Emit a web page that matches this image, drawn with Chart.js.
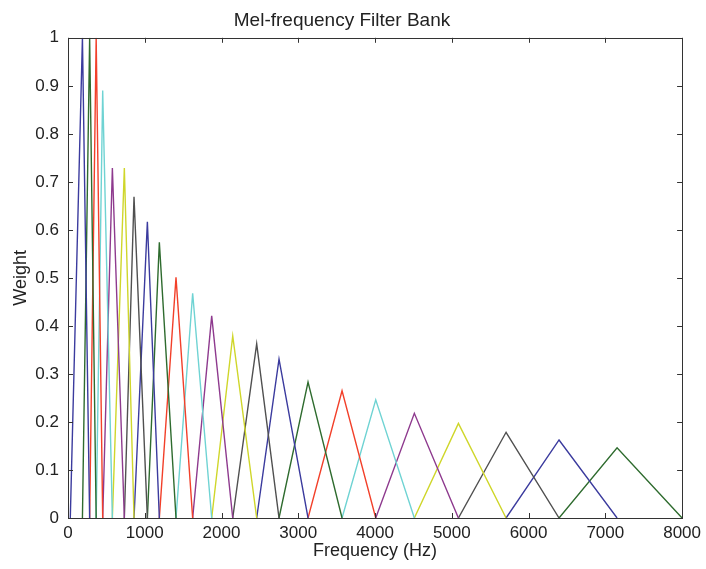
<!DOCTYPE html>
<html>
<head>
<meta charset="utf-8">
<script src="https://cdn.jsdelivr.net/npm/chart.js@4/dist/chart.umd.min.js"></script>
<style>
    body { margin: 0; background: #fff; }
    #chart-melbank { display: block; }
</style>
</head>
<body>
<canvas id="chart-melbank" width="706" height="569"></canvas>
<script>
// filter centre frequencies (Hz) and peak weights
var peakHz = [188, 282, 367, 452, 578, 734, 860, 1034, 1190, 1407, 1624, 1872, 2146, 2458, 2749, 3127, 3570, 4009, 4512, 5086, 5707, 6397, 7153];
var peakWeight = [1.0, 1.0, 1.0, 0.89, 0.729, 0.729, 0.669, 0.617, 0.574, 0.501, 0.468, 0.421, 0.379, 0.3625, 0.331, 0.283, 0.265, 0.246, 0.218, 0.197, 0.1785, 0.1625, 0.146];
var lowEdgeHz = 30;
var highEdgeHz = 8000;

var xTicks = [0, 1000, 2000, 3000, 4000, 5000, 6000, 7000, 8000];
var yTicks = [0, 0.1, 0.2, 0.3, 0.4, 0.5, 0.6, 0.7, 0.8, 0.9, 1];
var yTickLabels = ['0', '0.1', '0.2', '0.3', '0.4', '0.5', '0.6', '0.7', '0.8', '0.9', '1'];

// matlab style colour order, as it looks on the scan
var colors = ['#3b3b9e', '#2e6b2e', '#f2402a', '#6fd3d3', '#8e3a8e', '#cfd62a', '#505050'];

var FONT = '"Liberation Sans", Arial, sans-serif';

function buildDatasets() {
    var datasets = [];
    for (var i = 0; i < peakHz.length; i++) {
        var lo = i === 0 ? lowEdgeHz : peakHz[i - 1];
        var hi = i === peakHz.length - 1 ? highEdgeHz : peakHz[i + 1];
        datasets.push({
            data: [{x: lo, y: 0}, {x: peakHz[i], y: peakWeight[i]}, {x: hi, y: 0}],
            borderColor: colors[i % colors.length],
            borderWidth: 1.4,
            pointRadius: 0,
            showLine: true,
            fill: false,
            tension: 0
        });
    }
    return datasets;
}

// box round the plot with inward ticks on all four sides
var framePlugin = {
    id: 'frame',
    afterDatasetsDraw: function (chart) {
        var ctx = chart.ctx;
        var a = chart.chartArea;
        var xs = chart.scales.x;
        var ys = chart.scales.y;
        var len = 5;
        ctx.save();
        ctx.strokeStyle = '#333';
        ctx.lineWidth = 1;
        ctx.beginPath();
        xTicks.forEach(function (v) {
            var px = Math.round(xs.getPixelForValue(v)) + 0.5;
            ctx.moveTo(px, a.bottom); ctx.lineTo(px, a.bottom - len);
            ctx.moveTo(px, a.top); ctx.lineTo(px, a.top + len);
        });
        yTicks.forEach(function (v) {
            var py = Math.round(ys.getPixelForValue(v)) + 0.5;
            ctx.moveTo(a.left, py); ctx.lineTo(a.left + len, py);
            ctx.moveTo(a.right, py); ctx.lineTo(a.right - len, py);
        });
        ctx.stroke();
        ctx.strokeRect(Math.round(a.left) + 0.5, Math.round(a.top) + 0.5,
            Math.round(a.right - a.left), Math.round(a.bottom - a.top));
        ctx.restore();
    }
};

var ctx = document.getElementById('chart-melbank').getContext('2d');
var chart = new Chart(ctx, {
    type: 'scatter',
    data: { datasets: buildDatasets() },
    options: {
        responsive: false,
        devicePixelRatio: 1,
        animation: false,
        layout: { padding: { top: 0, right: 22, bottom: 0, left: 0 } },
        plugins: {
            legend: { display: false },
            tooltip: { enabled: false },
            title: {
                display: true,
                text: 'Mel-frequency Filter Bank',
                color: '#222',
                font: { family: FONT, size: 19, weight: 'normal' },
                padding: { top: 9, bottom: 6 }
            }
        },
        scales: {
            x: {
                type: 'linear',
                min: 0,
                max: 8000,
                grid: { display: false, drawTicks: false },
                border: { display: false },
                afterBuildTicks: function (scale) {
                    scale.ticks = xTicks.map(function (v) { return {value: v}; });
                },
                afterFit: function (scale) { scale.height = 51; },
                ticks: {
                    color: '#222',
                    padding: 5,
                    maxRotation: 0,
                    font: { family: FONT, size: 17 },
                    callback: function (value) { return String(value); }
                },
                title: {
                    display: true,
                    text: 'Frequency (Hz)',
                    color: '#222',
                    font: { family: FONT, size: 18 },
                    padding: { top: 0, bottom: 7 }
                }
            },
            y: {
                type: 'linear',
                min: 0,
                max: 1,
                grid: { display: false, drawTicks: false },
                border: { display: false },
                afterBuildTicks: function (scale) {
                    scale.ticks = yTicks.map(function (v) { return {value: v}; });
                },
                afterFit: function (scale) { scale.width = 68; },
                ticks: {
                    color: '#222',
                    padding: 9,
                    font: { family: FONT, size: 17 },
                    callback: function (value, index) { return yTickLabels[index]; }
                },
                title: {
                    display: true,
                    text: 'Weight',
                    color: '#222',
                    font: { family: FONT, size: 18 },
                    padding: { top: 10, bottom: 0 }
                }
            }
        }
    },
    plugins: [framePlugin]
});
</script>
</body>
</html>
